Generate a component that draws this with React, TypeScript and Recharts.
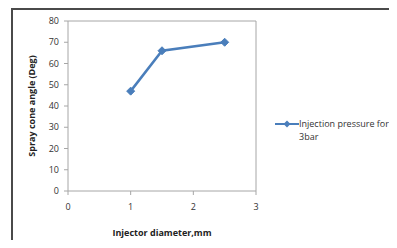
import React from 'react'
import { LineChart, Line, XAxis, YAxis, ReferenceLine } from 'recharts'

const diameters = [1, 1.5, 2.5]
const coneAngles = [47, 66, 70]
const xTicks = [0, 1, 2, 3]
const yTicks = [0, 10, 20, 30, 40, 50, 60, 70, 80]
const seriesName = 'Injection pressure for 3bar'

const data = diameters.map((d, i) => ({ d, angle: coneAngles[i] }))

const LINE_COLOR = '#4a7ebb'
const FONT = 'Open Sans, Liberation Sans, sans-serif'

const Diamond = (props: any) => {
  const { cx, cy } = props
  if (cx == null || cy == null) return null
  const r = 4
  return <polygon points={`${cx},${cy - r} ${cx + r},${cy} ${cx},${cy + r} ${cx - r},${cy}`} fill={LINE_COLOR} stroke={LINE_COLOR} />
}

// legend drawn beside the chart, like the spreadsheet one
const SeriesLegend = () => (
  <div style={{ position: 'absolute', left: 275, top: 117, display: 'flex', alignItems: 'flex-start', fontFamily: FONT, fontSize: 9, color: '#333' }}>
    <svg width={24} height={14} style={{ flex: 'none' }}>
      <line x1={0} y1={7} x2={24} y2={7} stroke={LINE_COLOR} strokeWidth={2} />
      <polygon points="12,3.5 15.5,7 12,10.5 8.5,7" fill={LINE_COLOR} />
    </svg>
    <div style={{ width: 95, lineHeight: '13px' }}>{seriesName}</div>
  </div>
)

export default function App() {
  return (
    <div style={{ position: 'relative', width: 397, height: 248, background: '#fff', overflow: 'hidden', margin: -8 }}>
      <div style={{ position: 'absolute', left: 11, top: 8, width: 400, height: 260, borderLeft: '2px solid #4a4a4a', borderTop: '2px solid #4a4a4a' }} />
      <LineChart width={397} height={248} data={data} margin={{ top: 21, right: 141, left: 28, bottom: 0 }}>
        <ReferenceLine y={80} stroke="#a6a6a6" />
        <ReferenceLine x={3} stroke="#a6a6a6" />
        <XAxis
          dataKey="d"
          type="number"
          domain={[0, 3]}
          ticks={xTicks}
          height={57}
          stroke="#a6a6a6"
          tickSize={4}
          tickMargin={9}
          tick={{ fill: '#333', fontSize: 9, fontFamily: FONT }}
          label={{ value: 'Injector diameter,mm', position: 'insideBottom', offset: 12, fill: '#222', fontSize: 9, fontWeight: 700, fontFamily: FONT }}
        />
        <YAxis
          type="number"
          domain={[0, 80]}
          ticks={yTicks}
          width={40}
          stroke="#a6a6a6"
          tickSize={4}
          tickMargin={5}
          tick={{ fill: '#333', fontSize: 9, fontFamily: FONT }}
          label={{ value: 'Spray cone angle (Deg)', angle: -90, position: 'insideLeft', offset: 0, dx: 4, fill: '#222', fontSize: 9, fontWeight: 700, fontFamily: FONT, style: { textAnchor: 'middle' } }}
        />
        <Line
          dataKey="angle"
          name={seriesName}
          stroke={LINE_COLOR}
          strokeWidth={2.5}
          dot={<Diamond />}
          activeDot={false}
          isAnimationActive={false}
        />
      </LineChart>
      <SeriesLegend />
    </div>
  )
}
